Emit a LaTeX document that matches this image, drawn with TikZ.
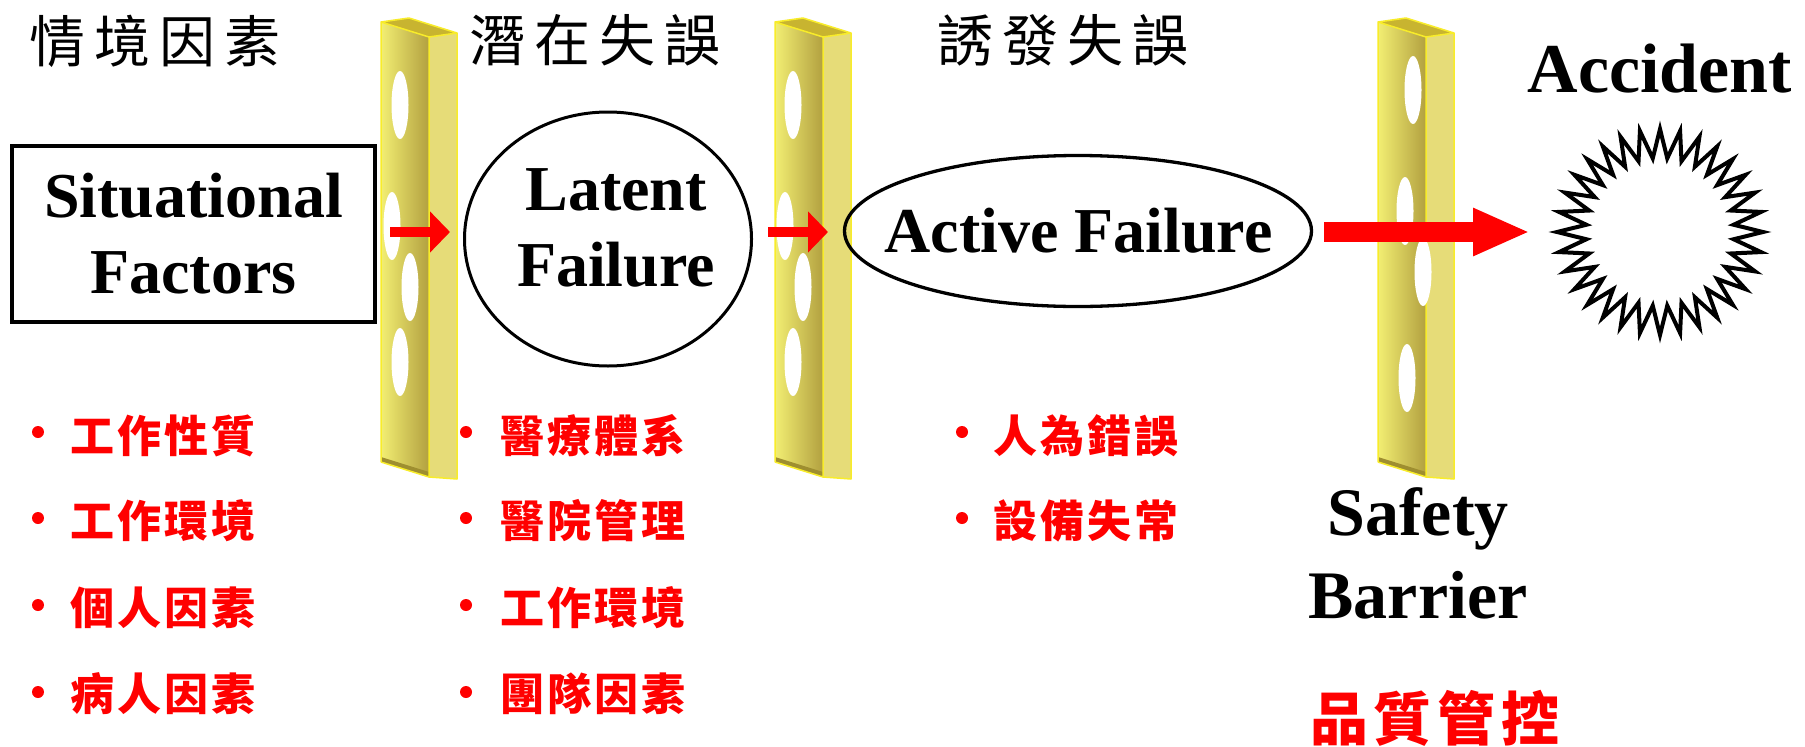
\documentclass[tikz,border=0pt]{standalone}
\usepackage{fontspec}
\setmainfont{Liberation Serif}
\newfontfamily\cjk{Noto Sans CJK TC}
\usetikzlibrary{shapes.geometric,arrows.meta,calc}

\definecolor{barlight}{HTML}{F2EE72}
\definecolor{bardark}{HTML}{B2A040}
\definecolor{barside}{HTML}{E6DC78}
\definecolor{baredge}{HTML}{F8EC2A}
\definecolor{bartop}{HTML}{C8B430}
\definecolor{barbottom}{HTML}{9E8E30}

% horizontal gap between CJK characters
\newcommand\cgap[1]{\hspace{#1pt}}

\tikzset{
  x=1pt, y=-1pt,
  title/.style={font=\cjk\fontsize{56}{60}\selectfont, inner sep=0pt},
  item/.style={font=\cjk\bfseries\fontsize{44}{48}\selectfont, text=red, anchor=west, inner sep=0pt},
  dot/.style={circle, fill=red, inner sep=0pt, minimum size=12pt},
  latin/.style={font=\bfseries\fontsize{64}{76}\selectfont, align=center, inner sep=0pt},
  redarrow/.style={draw=red, line width=10pt, -{Triangle[length=20pt, width=40pt]}},
  bigarrow/.style={draw=red, line width=20pt, -{Triangle[length=57pt, width=44pt]}},
}

% a perforated yellow plate; #1 = left edge of the front face, #2 = hole centres
\newcommand\drawbarrier[2]{%
  \begin{scope}[xshift=#1pt]
    \fill[left color=barlight, right color=bardark]
      (0,22) -- (48,37) -- (48,477) -- (0,462) -- cycle;
    \fill[barside] (48,37) -- (76,33) -- (76,479) -- (48,477) -- cycle;
    \fill[bartop] (0,22) -- (48,37) -- (76,33) -- (28,18) -- cycle;
    \fill[barbottom] (0,457) -- (48,472) -- (48,477) -- (0,462) -- cycle;
    \draw[baredge, line width=1.5pt, line join=round]
      (0,462) -- (0,22) -- (28,18) -- (76,33) -- (76,479) -- (48,477) -- (0,462)
      (0,22) -- (48,37) -- (76,33) (48,37) -- (48,477);
    \foreach \hx/\hy in {#2}
      \fill[white] (\hx,\hy) ellipse [x radius=8.5, y radius=34];
  \end{scope}}

\begin{document}
\begin{tikzpicture}
\fill[white] (0,0) rectangle (1805,747);
\useasboundingbox (0,0) rectangle (1805,747);

% plates
\drawbarrier{381}{19/105, 11/226, 29/287, 19/362}
\drawbarrier{775}{18/105, 10/226, 28/287, 18/362}
\drawbarrier{1378}{35/90, 27/211, 45/272, 29/378}

% headings
\node[title] (h1) at (155,41) {情\cgap{9}境\cgap{9}因\cgap{9}素};
\node[title] (h2) at (595,40) {潛\cgap{9}在\cgap{9}失\cgap{9}誤};
\node[title] (h3) at (1063,40) {誘\cgap{9}發\cgap{9}失\cgap{9}誤};

% main stages
\node[draw, line width=4pt, minimum width=363pt, minimum height=176pt, latin]
  (sit) at (193.5,234) {Situational\\Factors};
\node[ellipse, draw, line width=3pt, minimum width=287pt, minimum height=254pt, inner sep=0pt]
  (latent) at (608,239) {};
\node[latin] (latenttxt) at ($(latent.center)+(8,-11)$) {Latent\\Failure};
\node[ellipse, draw, line width=3.3pt, minimum width=467pt, minimum height=151pt, inner sep=0pt]
  (active) at (1078,231) {};
\node[latin] (activetxt) at ($(active.center)+(0.5,-0.5)$) {Active Failure};

\node[latin, font=\bfseries\fontsize{70}{80}\selectfont, anchor=base] (acc) at (1660,92) {Accident};

% the 32-point burst
\coordinate (burst) at (1660,232);
\begin{scope}[shift={(burst)}]
  \draw[line width=4pt, line join=miter, fill=white]
    plot[samples at={0,...,63}, variable=\k]
      ({(74+29*(1-mod(\k,2)))*cos(90+5.625*\k)}, {-(74+29*(1-mod(\k,2)))*sin(90+5.625*\k)})
    -- cycle;
\end{scope}

\node[latin, font=\bfseries\fontsize{68}{83}\selectfont] (safety) at (1418,553) {Safety\\Barrier};
\node[font=\cjk\bfseries\fontsize{58}{62}\selectfont, text=red, inner sep=0pt] (qc) at (1435,718)
  {品\cgap{6}質\cgap{6}管\cgap{6}控};

% arrows through the plates
\draw[redarrow] ($(sit.east)+(13,-2)$) -- ++(60,0);
\draw[redarrow] ($(latent.east)+(15,-7)$) -- ++(60,0);
\draw[bigarrow] ($(active.east)+(11,1)$) -- ($(burst)+(-130,0)$);

% factor lists
\node[dot] (d11) at (38,432) {};  \node[item] (i11) at (70,436) {工\cgap{3}作\cgap{3}性\cgap{3}質};
\node[dot] (d12) at (38,518) {};  \node[item] (i12) at (70,521) {工\cgap{3}作\cgap{3}環\cgap{3}境};
\node[dot] (d13) at (38,605) {};  \node[item] (i13) at (70,608) {個\cgap{3}人\cgap{3}因\cgap{3}素};
\node[dot] (d14) at (38,692) {};  \node[item] (i14) at (70,694) {病\cgap{3}人\cgap{3}因\cgap{3}素};

\node[dot] (d21) at (466,432) {}; \node[item] (i21) at (500,436) {醫\cgap{3}療\cgap{3}體\cgap{3}系};
\node[dot] (d22) at (466,518) {}; \node[item] (i22) at (500,521) {醫\cgap{3}院\cgap{3}管\cgap{3}理};
\node[dot] (d23) at (466,605) {}; \node[item] (i23) at (500,608) {工\cgap{3}作\cgap{3}環\cgap{3}境};
\node[dot] (d24) at (466,692) {}; \node[item] (i24) at (500,694) {團\cgap{3}隊\cgap{3}因\cgap{3}素};

\node[dot] (d31) at (962,432) {}; \node[item] (i31) at (993,436) {人\cgap{3}為\cgap{3}錯\cgap{3}誤};
\node[dot] (d32) at (962,518) {}; \node[item] (i32) at (993,521) {設\cgap{3}備\cgap{3}失\cgap{3}常};
\end{tikzpicture}
\end{document}
